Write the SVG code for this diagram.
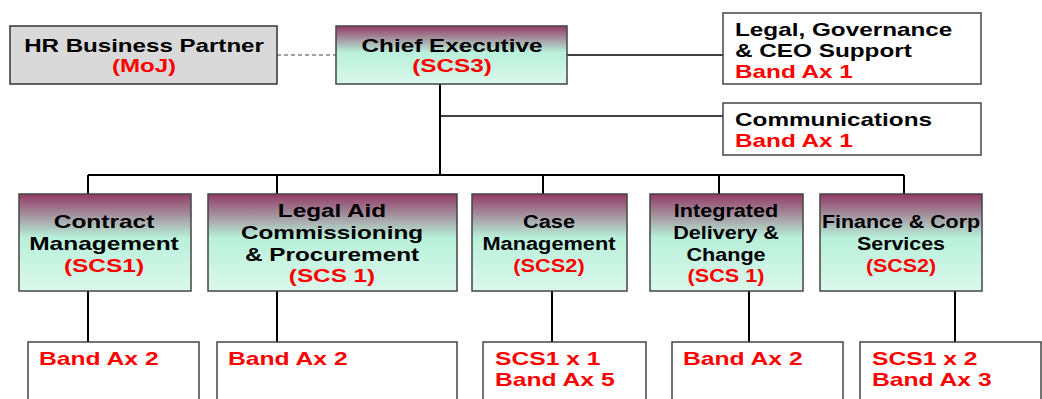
<svg xmlns="http://www.w3.org/2000/svg" width="1042" height="399" viewBox="0 0 1042 399">
<defs>
<linearGradient id="grad" x1="0" y1="0" x2="0" y2="1">
<stop offset="0" stop-color="#923a66"/>
<stop offset="0.45" stop-color="#b8f0da"/>
<stop offset="1" stop-color="#dcf8ec"/>
</linearGradient>
<style>
.g{fill:url(#grad);stroke:#444;stroke-width:1.5}
.w{fill:#fff;stroke:#444;stroke-width:1.5}
.gr{fill:#d9d9d9;stroke:#333;stroke-width:1.5}
.t{font-family:"Liberation Sans",Arial,sans-serif;font-weight:bold;font-size:18px;fill:#000}
.r{fill:#ff0000}
.c{text-anchor:middle}
.ln{stroke:#000;stroke-width:2;fill:none}
.thin{stroke:#000;stroke-width:1.5;fill:none}
.dash{stroke:#444;stroke-width:1.2;stroke-dasharray:4 3;fill:none}
</style>
</defs>
<g id="connectors">
<line class="dash" x1="277" y1="55" x2="336" y2="55"/>
<line class="thin" x1="567" y1="55" x2="723" y2="55"/>
<line class="ln" x1="440" y1="84" x2="440" y2="175"/>
<line class="thin" x1="440" y1="116" x2="723" y2="116"/>
<line class="ln" x1="88" y1="175" x2="904" y2="175"/>
<line class="ln" x1="88" y1="175" x2="88" y2="194"/>
<line class="ln" x1="277" y1="175" x2="277" y2="194"/>
<line class="ln" x1="543" y1="175" x2="543" y2="194"/>
<line class="ln" x1="719" y1="175" x2="719" y2="194"/>
<line class="ln" x1="904" y1="175" x2="904" y2="194"/>
<line class="ln" x1="88" y1="291" x2="88" y2="342"/>
<line class="ln" x1="277" y1="291" x2="277" y2="342"/>
<line class="ln" x1="552" y1="291" x2="552" y2="342"/>
<line class="ln" x1="749" y1="291" x2="749" y2="342"/>
<line class="ln" x1="955" y1="291" x2="955" y2="342"/>
</g>
<g id="hr">
<rect class="gr" x="10" y="26" width="267" height="58"/>
<text class="t c" transform="translate(144 0) scale(1.34 1)"><tspan x="0" y="52.5">HR Business Partner</tspan><tspan class="r" x="0" y="72.5">(MoJ)</tspan></text>
</g>
<g id="chief">
<rect class="g" x="336" y="26" width="231" height="58"/>
<text class="t c" transform="translate(452 0) scale(1.35 1)"><tspan x="0" y="52.5">Chief Executive</tspan><tspan class="r" x="0" y="72.5">(SCS3)</tspan></text>
</g>
<g id="legal">
<rect class="w" x="723" y="13" width="258" height="71"/>
<text class="t" transform="translate(735 0) scale(1.35 1)"><tspan x="0" y="36">Legal, Governance</tspan><tspan x="0" y="57">&amp; CEO Support</tspan><tspan class="r" x="0" y="78.5">Band Ax 1</tspan></text>
</g>
<g id="comms">
<rect class="w" x="723" y="103" width="258" height="52"/>
<text class="t" transform="translate(735 0) scale(1.35 1)"><tspan x="0" y="126">Communications</tspan><tspan class="r" x="0" y="147.5">Band Ax 1</tspan></text>
</g>
<g id="contract">
<rect class="g" x="19" y="194" width="172" height="97"/>
<text class="t c" transform="translate(104 0) scale(1.36 1)"><tspan x="0" y="228">Contract</tspan><tspan x="0" y="250">Management</tspan><tspan class="r" x="0" y="272">(SCS1)</tspan></text>
</g>
<g id="legalaid">
<rect class="g" x="208" y="194" width="249" height="97"/>
<text class="t c" transform="translate(332 0) scale(1.35 1)"><tspan x="0" y="217.5">Legal Aid</tspan><tspan x="0" y="239.5">Commissioning</tspan><tspan x="0" y="261">&amp; Procurement</tspan><tspan class="r" x="0" y="282.5">(SCS 1)</tspan></text>
</g>
<g id="case">
<rect class="g" x="472" y="194" width="155" height="97"/>
<text class="t c" transform="translate(549 0) scale(1.21 1)"><tspan x="0" y="228">Case</tspan><tspan x="0" y="250">Management</tspan><tspan class="r" x="0" y="272.5">(SCS2)</tspan></text>
</g>
<g id="integrated">
<rect class="g" x="650" y="194" width="153" height="97"/>
<text class="t c" transform="translate(726 0) scale(1.2 1)"><tspan x="0" y="217.5">Integrated</tspan><tspan x="0" y="239">Delivery &amp;</tspan><tspan x="0" y="261">Change</tspan><tspan class="r" x="0" y="282.5">(SCS 1)</tspan></text>
</g>
<g id="finance">
<rect class="g" x="820" y="194" width="162" height="97"/>
<text class="t c" transform="translate(901 0) scale(1.19 1)"><tspan x="0" y="228.5">Finance &amp; Corp</tspan><tspan x="0" y="250">Services</tspan><tspan class="r" x="0" y="272">(SCS2)</tspan></text>
</g>
<g id="b1">
<rect class="w" x="28" y="342" width="171" height="80"/>
<text class="t r" transform="translate(39 0) scale(1.37 1)"><tspan x="0" y="365">Band Ax 2</tspan></text>
</g>
<g id="b2">
<rect class="w" x="217" y="342" width="240" height="80"/>
<text class="t r" transform="translate(228 0) scale(1.37 1)"><tspan x="0" y="365">Band Ax 2</tspan></text>
</g>
<g id="b3">
<rect class="w" x="483" y="342" width="163" height="80"/>
<text class="t r" transform="translate(495 0) scale(1.37 1)"><tspan x="0" y="365">SCS1 x 1</tspan><tspan x="0" y="386.5">Band Ax 5</tspan></text>
</g>
<g id="b4">
<rect class="w" x="672" y="342" width="171" height="80"/>
<text class="t r" transform="translate(683 0) scale(1.37 1)"><tspan x="0" y="365">Band Ax 2</tspan></text>
</g>
<g id="b5">
<rect class="w" x="860" y="342" width="181" height="80"/>
<text class="t r" transform="translate(872 0) scale(1.37 1)"><tspan x="0" y="365">SCS1 x 2</tspan><tspan x="0" y="386.5">Band Ax 3</tspan></text>
</g>
</svg>
